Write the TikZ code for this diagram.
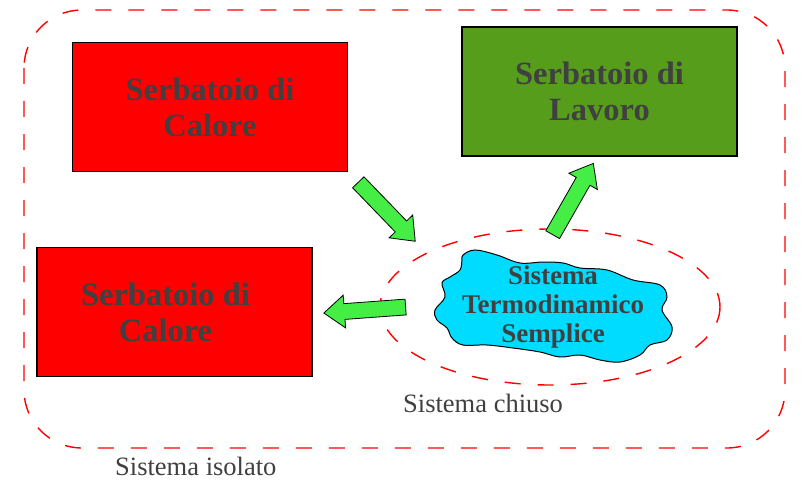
\documentclass[tikz,border=0pt]{standalone}
\usepackage{fontspec}
\setmainfont{Liberation Serif}
\usepackage{tikz}
\usetikzlibrary{arrows.meta, calc, positioning, shapes.arrows}
\usepackage{xcolor}
\definecolor{FrameRed}{HTML}{FF0000}
\definecolor{BoxRed}{HTML}{FF0000}
\definecolor{BoxGreen}{HTML}{579D1C}
\definecolor{CloudCyan}{HTML}{00DCFF}
\definecolor{ArrowGreen}{HTML}{44EE44}
\definecolor{TextGray}{HTML}{404040}
\tikzset{%
  reservoir/.style={%
    rectangle,%
    draw=black,%
    line width=1.2pt,%
    minimum width=275pt,%
    minimum height=129pt,%
    inner sep=0pt,%
    text=TextGray,%
    font={\fontsize{32.5}{36}\selectfont\bfseries},%
    align=center%
  },
  boundary/.style={%
    draw=FrameRed,%
    line width=1.4pt,%
    dash pattern=on 16pt off 17pt,%
  },
  fatarrow/.style={%
    single arrow,%
    draw=black,%
    fill=ArrowGreen,%
    line width=0.8pt,%
    text height=0pt,%
    text depth=0pt,%
    inner xsep=0pt,%
    inner ysep=7.5pt,%
    minimum height=82pt,%
    single arrow head extend=8.5pt,%
    single arrow tip angle=77,%
    anchor=tail%
  },
  system_text/.style={%
    text=TextGray,%
    font={\fontsize{27}{29}\selectfont\bfseries},%
    align=center%
  },
  annotate/.style={%
    text=TextGray,%
    font={\fontsize{26.5}{29}\selectfont},%
    anchor=base west,%
    inner sep=0pt%
  },
}
\begin{document}
\begin{tikzpicture}[x=1pt, y=-1pt]
  \useasboundingbox (0,0) rectangle (804,487);

  % isolated system
  \draw [boundary, rounded corners=58pt] (24,10) rectangle (785,448);
  \node [annotate] (isolato) at (115,475) {Sistema isolato};

  % reservoirs
  \node [reservoir, fill=BoxRed] (heat_top) at (210,107) {Serbatoio di\\Calore};
  \node [reservoir, fill=BoxGreen] (work) at (599.5,91.5) {Serbatoio di\\Lavoro};
  \node [reservoir, fill=BoxRed] (heat_bot) at (174.5,312) {};
  \node [reservoir, draw=none, fill=none, minimum width=0pt, minimum height=0pt]
    (heat_bot_text) at ([shift={(-9,0)}]heat_bot.center) {Serbatoio di\\Calore};

  % closed system
  \draw [boundary] (550,307) ellipse [x radius=170, y radius=78];
  \node [annotate] (chiuso) at (403,412) {Sistema chiuso};

  % simple thermodynamic system
  \draw [fill=CloudCyan, draw=black, line width=1pt]
    plot [smooth cycle, tension=0.6] coordinates {%
      (463,255) (475,250) (497,255) (520,263) (543,262) (563,263)
      (580,268) (607,270) (633,280) (660,285) (667,297) (662,310)
      (672,327) (667,340) (650,345) (640,355) (620,362) (600,360)
      (580,355) (560,357) (540,352) (513,348) (487,345) (463,345)
      (452,338) (447,328) (437,320) (435,310) (445,297) (442,283)
      (450,277) (460,270) (462,260)};
  \node [system_text] (sys) at (553,307) {Sistema\\Termodinamico\\Semplice};

  % heat and work flows
  \node [fatarrow, rotate=-46] (q_in) at (358,182) {};
  \node [fatarrow, rotate=60.3] (w_out) at (552.5,235) {};
  \node [fatarrow, rotate=184.2] (q_out) at (406,307) {};
\end{tikzpicture}
\end{document}
